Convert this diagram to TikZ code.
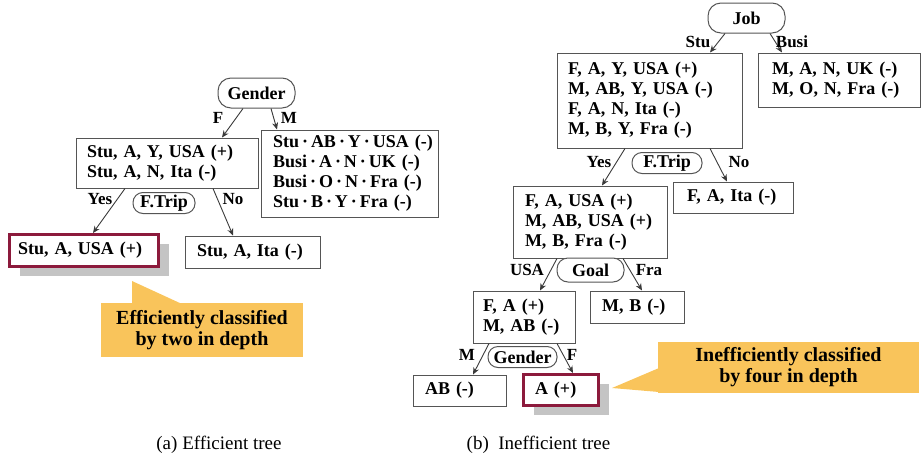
\documentclass[tikz,border=0pt]{standalone}
\usepackage{fontspec}
\setmainfont{Liberation Serif}
\usetikzlibrary{arrows.meta,shadows}

\definecolor{edgegray}{HTML}{555555}
\definecolor{linkgray}{HTML}{3A3A3A}
\definecolor{leafred}{HTML}{8C1A3C}
\definecolor{shadowgray}{HTML}{C4C4C4}
\definecolor{notefill}{HTML}{F9C45B}

% left-aligned rows inside a box, never broken
\newcommand\rows[1]{\begin{tabular}{@{}l@{}}#1\end{tabular}}
% spaced middle dot
\newcommand\xdot{\hspace{3pt}·\hspace{3pt}}

\begin{document}
\begin{tikzpicture}[x=1pt,y=-1pt,
  boxfont/.style={font=\fontsize{18}{20}\selectfont\bfseries},
  box/.style={boxfont, draw=edgegray, line width=1pt, fill=white,
    align=left, inner ysep=0pt},
  leaf/.style={box, draw=leafred, line width=3pt,
    drop shadow={shadow xshift=10pt, shadow yshift=-9pt, fill=shadowgray, opacity=1}},
  test/.style={boxfont, draw=edgegray, line width=1pt, fill=white,
    inner sep=0pt, align=center},
  lbl/.style={font=\fontsize{17}{19}\selectfont\bfseries, inner sep=0pt},
  link/.style={draw=linkgray, line width=0.9pt, -{Stealth[length=7pt,width=6pt]}},
  note/.style={fill=notefill, inner sep=0pt, align=center,
    font=\fontsize{20}{21}\selectfont\bfseries},
  caption/.style={font=\fontsize{19}{21}\selectfont, inner sep=0pt}
]
\useasboundingbox (0,0) rectangle (923,469);

% ---------------- (a) efficient tree ----------------
\node[test, minimum width=77pt, minimum height=30pt, rounded corners=13pt] (g1) at (256.5,93) {Gender};

\node[box, text width=160pt, inner xsep=11pt, minimum height=50pt] (L1) at (167,163)
  {\rows{Stu, A, Y, USA (+)\\Stu, A, N, Ita (-)}};
\node[box, text width=153pt, inner xsep=12pt, minimum height=87pt] (L2) at (349.5,173.5)
  {\rows{Stu\xdot AB\xdot Y\xdot USA (-)\\Busi\xdot A\xdot N\xdot UK (-)\\Busi\xdot O\xdot N\xdot Fra (-)\\Stu\xdot B\xdot Y\xdot Fra (-)}};

\node[test, minimum width=62pt, minimum height=21pt, rounded corners=10pt] (ft1) at (164,203) {F.Trip};

\node[leaf, text width=132pt, inner xsep=8.5pt, minimum height=32pt] (L3) at (84,250.5)
  {\rows{Stu, A, USA (+)}};
\node[box, text width=111pt, inner xsep=12pt, minimum height=32pt] (L4) at (252.5,252)
  {\rows{Stu, A, Ita (-)}};

\draw[link] ([xshift=-13.5pt]g1.south) -- ([xshift=55pt]L1.north);
\draw[link] ([xshift=14.5pt]g1.south) -- ([xshift=-72.5pt]L2.north);
\draw[link] ([xshift=-42pt]L1.south) -- ([xshift=9pt]L3.north);
\draw[link] ([xshift=46pt]L1.south) -- ([xshift=-19.5pt]L4.north);

\node[lbl] (lF1) at (218,118) {F};
\node[lbl] (lM1) at (289,118) {M};
\node[lbl] (lY1) at (100,199) {Yes};
\node[lbl] (lN1) at (233,199) {No};

% callout
\fill[notefill] (132,304) -- (132,281) -- (182,304) -- cycle;
\node[note, minimum width=202pt, minimum height=54pt] (n1) at (202,330)
  {Efficiently classified\\by two in depth};

% ---------------- (b) inefficient tree ----------------
\node[test, minimum width=77pt, minimum height=30pt, rounded corners=13pt] (job) at (746.5,18) {Job};

\node[box, text width=163pt, inner xsep=11pt, minimum height=95pt] (R1) at (649.5,100.5)
  {\rows{F, A, Y, USA (+)\\M, AB, Y, USA (-)\\F, A, N, Ita (-)\\M, B, Y, Fra (-)}};
\node[box, text width=134pt, inner xsep=14pt, minimum height=54pt] (R2) at (839,80)
  {\rows{M, A, N, UK (-)\\M, O, N, Fra (-)}};

\node[test, minimum width=70pt, minimum height=21pt, rounded corners=10pt] (ft2) at (667,163) {F.Trip};

\node[box, text width=130pt, inner xsep=12pt, minimum height=72pt] (R3) at (590,222)
  {\rows{F, A, USA (+)\\M, AB, USA (+)\\M, B, Fra (-)}};
\node[box, text width=92pt, inner xsep=14pt, minimum height=31pt] (R4) at (733,197.5)
  {\rows{F, A, Ita (-)}};

\node[test, minimum width=67pt, minimum height=24pt, rounded corners=11pt] (goal) at (590.5,270) {Goal};

\node[box, text width=82pt, inner xsep=10pt, minimum height=52pt] (R5) at (524,317)
  {\rows{F, A (+)\\M, AB (-)}};
\node[box, text width=70pt, inner xsep=12pt, minimum height=32pt] (R6) at (637,307)
  {\rows{M, B (-)}};

\node[test, minimum width=69pt, minimum height=21pt, rounded corners=10pt] (g2) at (522.5,357) {Gender};

\node[box, text width=69pt, inner xsep=12pt, minimum height=31pt] (R7) at (459.5,390.5)
  {\rows{AB (-)}};
\node[leaf, text width=52pt, inner xsep=11.5pt, minimum height=31pt] (R8) at (561,390)
  {\rows{A (+)}};

\draw[link] ([xshift=-21.5pt]job.south) -- ([xshift=60.5pt]R1.north);
\draw[link] ([xshift=23.5pt]job.south) -- ([xshift=-57pt]R2.north);
\draw[link] ([xshift=-24.5pt]R1.south) -- ([xshift=12pt]R3.north);
\draw[link] ([xshift=60.5pt]R1.south) -- ([xshift=-6pt]R4.north);
\draw[link] ([xshift=-33pt]R3.south) -- ([xshift=16pt]R5.north);
\draw[link] ([xshift=33pt]R3.south) -- ([xshift=5pt]R6.north);
\draw[link] ([xshift=-35pt]R5.south) -- ([xshift=13.5pt]R7.north);
\draw[link] ([xshift=33pt]R5.south) -- ([xshift=12pt]R8.north);

\node[lbl] (lS2) at (698,42) {Stu};
\node[lbl] (lB2) at (792,42) {Busi};
\node[lbl] (lY2) at (599,162) {Yes};
\node[lbl] (lN2) at (739,162) {No};
\node[lbl] (lU2) at (527,270) {USA};
\node[lbl] (lF2) at (649,270) {Fra};
\node[lbl] (lM3) at (467,355) {M};
\node[lbl] (lF3) at (572,355) {F};

% callout
\fill[notefill] (659,368) -- (612,388) -- (659,392) -- cycle;
\node[note, minimum width=261pt, minimum height=51pt] (n2) at (788.5,367.5)
  {Inefficiently classified\\by four in depth};

% ---------------- captions ----------------
\node[caption] (capa) at (219,445) {(a)\ Efficient tree};
\node[caption] (capb) at (538.5,445) {(b)\ \ Inefficient tree};
\end{tikzpicture}
\end{document}
